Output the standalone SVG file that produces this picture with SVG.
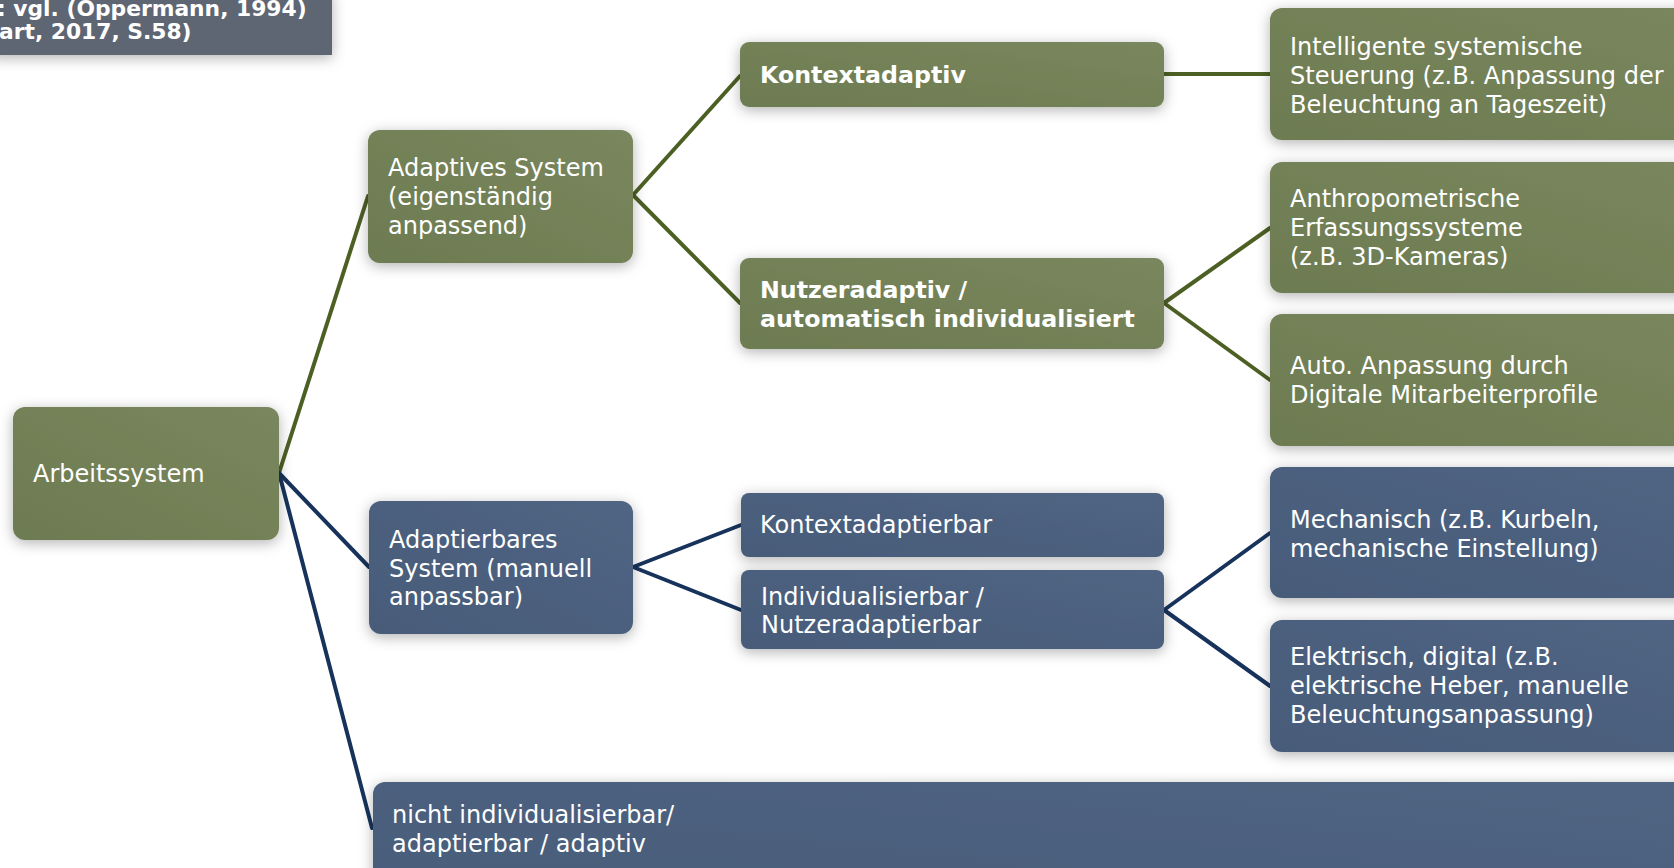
<svg xmlns="http://www.w3.org/2000/svg" width="1674" height="868" viewBox="0 0 1674 868">
<defs>
<filter id="sh" x="-20%" y="-30%" width="140%" height="160%">
<feDropShadow dx="0" dy="3" stdDeviation="7" flood-color="#000" flood-opacity="0.3"/>
</filter>
<linearGradient id="gg" x1="0" y1="1" x2="1" y2="0">
<stop offset="0" stop-color="#6d7b51"/>
<stop offset="1" stop-color="#7a875e"/>
</linearGradient>
<linearGradient id="bg" x1="0" y1="1" x2="1" y2="0">
<stop offset="0" stop-color="#475b79"/>
<stop offset="1" stop-color="#506583"/>
</linearGradient>
</defs>
<style>
.g{fill:url(#gg);filter:url(#sh)}
.b{fill:url(#bg);filter:url(#sh)}
.t{font-family:"DejaVu Sans","Liberation Sans",sans-serif;font-size:24px;fill:#ffffff}
.tb{font-family:"DejaVu Sans","Liberation Sans",sans-serif;font-size:23.7px;font-weight:bold;fill:#ffffff}
.tq{font-family:"DejaVu Sans","Liberation Sans",sans-serif;font-size:21.8px;font-weight:bold;fill:#ffffff}
.lg{stroke:#4d6024;stroke-width:4;fill:none;stroke-linecap:round}
.lb{stroke:#17335c;stroke-width:4;fill:none;stroke-linecap:round}
</style>
<rect width="1674" height="868" fill="#ffffff"/>

<g id="quelle">
<rect x="-10" y="-10" width="342" height="65" fill="#5f6673" filter="url(#sh)"/>
<text class="tq" x="-3" y="16">: vgl. (Oppermann, 1994)</text>
<text class="tq" x="-1" y="39">art, 2017, S.58)</text>
</g>

<g id="connectors">
<line class="lg" x1="279" y1="473" x2="368" y2="196"/>
<line class="lb" x1="279" y1="473" x2="369" y2="567"/>
<line class="lb" x1="279" y1="473" x2="372" y2="828"/>
<line class="lg" x1="633" y1="195" x2="740" y2="76"/>
<line class="lg" x1="633" y1="195" x2="740" y2="303"/>
<line class="lg" x1="1164" y1="74" x2="1270" y2="74"/>
<line class="lg" x1="1164" y1="303" x2="1270" y2="228"/>
<line class="lg" x1="1164" y1="303" x2="1270" y2="380"/>
<line class="lb" x1="633" y1="567" x2="741" y2="525"/>
<line class="lb" x1="633" y1="567" x2="741" y2="610"/>
<line class="lb" x1="1164" y1="610" x2="1270" y2="533"/>
<line class="lb" x1="1164" y1="610" x2="1270" y2="686"/>
</g>

<g id="arbeitssystem">
<rect class="g" x="13" y="407" width="266" height="133" rx="12"/>
<text class="t" x="33" y="482">Arbeitssystem</text>
</g>

<g id="adaptives">
<rect class="g" x="368" y="130" width="265" height="133" rx="12"/>
<text class="t" x="388" y="176">Adaptives System</text>
<text class="t" x="388" y="205">(eigenständig</text>
<text class="t" x="388" y="234">anpassend)</text>
</g>

<g id="adaptierbares">
<rect class="b" x="369" y="501" width="264" height="133" rx="12"/>
<text class="t" x="389" y="548">Adaptierbares</text>
<text class="t" x="389" y="577">System (manuell</text>
<text class="t" x="389" y="605">anpassbar)</text>
</g>

<g id="nicht">
<rect class="b" x="373" y="782" width="1400" height="140" rx="12"/>
<text class="t" x="392" y="823">nicht individualisierbar/</text>
<text class="t" x="392" y="852">adaptierbar / adaptiv</text>
</g>

<g id="kontextadaptiv">
<rect class="g" x="740" y="42" width="424" height="65" rx="9"/>
<text class="tb" x="760" y="83">Kontextadaptiv</text>
</g>

<g id="nutzeradaptiv">
<rect class="g" x="740" y="258" width="424" height="91" rx="9"/>
<text class="tb" x="760" y="298">Nutzeradaptiv /</text>
<text class="tb" x="760" y="327">automatisch individualisiert</text>
</g>

<g id="kontextadaptierbar">
<rect class="b" x="741" y="493" width="423" height="64" rx="8"/>
<text class="t" x="760" y="533">Kontextadaptierbar</text>
</g>

<g id="individualisierbar">
<rect class="b" x="741" y="570" width="423" height="79" rx="8"/>
<text class="t" x="761" y="605">Individualisierbar /</text>
<text class="t" x="761" y="633">Nutzeradaptierbar</text>
</g>

<g id="intelligente">
<rect class="g" x="1270" y="8" width="440" height="132" rx="12"/>
<text class="t" x="1290" y="55">Intelligente systemische</text>
<text class="t" x="1290" y="84">Steuerung (z.B. Anpassung der</text>
<text class="t" x="1290" y="113">Beleuchtung an Tageszeit)</text>
</g>

<g id="anthropometrische">
<rect class="g" x="1270" y="162" width="440" height="131" rx="12"/>
<text class="t" x="1290" y="207">Anthropometrische</text>
<text class="t" x="1290" y="236">Erfassungssysteme</text>
<text class="t" x="1290" y="265">(z.B. 3D-Kameras)</text>
</g>

<g id="auto">
<rect class="g" x="1270" y="314" width="440" height="132" rx="12"/>
<text class="t" x="1290" y="374">Auto. Anpassung durch</text>
<text class="t" x="1290" y="403">Digitale Mitarbeiterprofile</text>
</g>

<g id="mechanisch">
<rect class="b" x="1270" y="467" width="440" height="131" rx="12"/>
<text class="t" x="1290" y="528">Mechanisch (z.B. Kurbeln,</text>
<text class="t" x="1290" y="557">mechanische Einstellung)</text>
</g>

<g id="elektrisch">
<rect class="b" x="1270" y="620" width="440" height="132" rx="12"/>
<text class="t" x="1290" y="665">Elektrisch, digital (z.B.</text>
<text class="t" x="1290" y="694">elektrische Heber, manuelle</text>
<text class="t" x="1290" y="723">Beleuchtungsanpassung)</text>
</g>
</svg>
